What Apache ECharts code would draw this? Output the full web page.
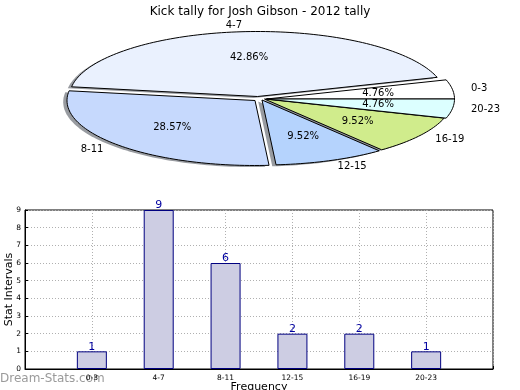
<!DOCTYPE html>
<html>
<head>
<meta charset="utf-8">
<script src="https://cdn.jsdelivr.net/npm/echarts@6/dist/echarts.min.js"></script>
<style>
html,body{margin:0;padding:0;background:#fff;}
#chart{width:520px;height:390px;}
</style>
</head>
<body>
<div id="chart"></div>
<script>
// ---- data ----
const categories = ['0-3', '4-7', '8-11', '12-15', '16-19', '20-23'];
const counts = [1, 9, 6, 2, 2, 1];
const yTicks = [0, 1, 2, 3, 4, 5, 6, 7, 8, 9];
const titleText = 'Kick tally for Josh Gibson - 2012 tally';

// ---- styles / geometry (not data) ----
const sliceColors = ['#ffffff', '#eaf1fe', '#c6d9fd', '#b5d3fd', '#d0ec8c', '#dcffff'];
const PIE = { cx: 265.5, cy: 99, rx: 188, ry: 65 };
const sliceOffsets = [[1, 0], [-8, -2.5], [-10.5, 1.5], [-3.5, 1], [-1, 0], [1, 0]];
const shadowOffset = [-3.8, 1.5];
const FONT = 'DejaVu Sans';

const total = counts.reduce((a, b) => a + b, 0);
const starts = [];
(function () { let acc = 0; counts.forEach(v => { starts.push(acc); acc += v; }); })();

function sliceGeom(i) {
  const a0 = starts[i] / total * Math.PI * 2;
  const a1 = (starts[i] + counts[i]) / total * Math.PI * 2;
  const c = [PIE.cx + sliceOffsets[i][0], PIE.cy + sliceOffsets[i][1]];
  return { a0, a1, c, m: (a0 + a1) / 2 };
}
function wedgePoints(c, a0, a1) {
  const pts = [[c[0], c[1]]];
  const n = Math.max(2, Math.ceil((a1 - a0) / (Math.PI / 120)));
  for (let k = 0; k <= n; k++) {
    const t = a0 + (a1 - a0) * k / n;
    pts.push([c[0] + PIE.rx * Math.cos(t), c[1] - PIE.ry * Math.sin(t)]);
  }
  return pts;
}

const pieData = counts.map((v, i) => [i, v]);

const chart = echarts.init(document.getElementById('chart'), null, { renderer: 'canvas' });
chart.setOption({
  animation: false,
  backgroundColor: '#fff',
  title: {
    text: titleText, left: 'center', top: 1,
    textStyle: { fontSize: 12, fontWeight: 'normal', color: '#000', fontFamily: FONT }
  },
  graphic: [{
    type: 'text', left: 0, top: 373,
    style: { text: 'Dream-Stats.com', fill: 'rgba(120,120,120,0.75)', fontSize: 12, fontFamily: FONT }
  }],
  grid: { left: 25, right: 27, top: 210, bottom: 21, containLabel: false, outerBoundsMode: 'none',
    show: true, borderColor: '#000', borderWidth: 1 },
  xAxis: {
    type: 'category',
    data: [''].concat(categories, ['']),
    boundaryGap: false,
    name: 'Frequency', nameLocation: 'middle', nameGap: 13, nameMoveOverlap: false,
    nameTextStyle: { fontSize: 11, color: '#000', fontFamily: FONT },
    axisLine: { lineStyle: { color: '#000' } },
    axisTick: { show: true, inside: true, length: 3, lineStyle: { color: '#000' } },
    axisLabel: { fontSize: 7.5, color: '#000', fontFamily: FONT, margin: 5, interval: 0 },
    splitLine: { show: true, lineStyle: { color: '#b0b0b0', type: [1, 2] } }
  },
  yAxis: {
    type: 'value', min: 0, max: 9, interval: 1,
    name: 'Stat Intervals', nameLocation: 'middle', nameGap: 10, nameRotate: 90, nameMoveOverlap: false,
    nameTextStyle: { fontSize: 11, color: '#000', fontFamily: FONT },
    axisLine: { show: true, lineStyle: { color: '#000' } },
    axisTick: { show: true, inside: true, length: 3, lineStyle: { color: '#000' } },
    axisLabel: { fontSize: 7.5, color: '#000', fontFamily: FONT, margin: 4,
      formatter: v => (yTicks.indexOf(v) >= 0 ? String(v) : '') },
    splitLine: { show: true, lineStyle: { color: '#b0b0b0', type: [1, 2] } }
  },
  series: [
    {
      type: 'bar',
      data: ['-'].concat(counts, ['-']),
      barWidth: 30,
      itemStyle: { color: '#cdcde3', borderColor: '#000080', borderWidth: 1 },
      label: { show: true, position: 'top', distance: -1, color: '#0000a0', fontSize: 11, fontFamily: FONT },
      z: 3
    },
    {
      type: 'custom', coordinateSystem: 'none', z: 1, silent: true,
      data: pieData,
      renderItem: function (params, api) {
        const i = api.value(0);
        const g = sliceGeom(i);
        const c = [g.c[0] + shadowOffset[0], g.c[1] + shadowOffset[1]];
        return {
          type: 'polygon',
          shape: { points: wedgePoints(c, g.a0, g.a1) },
          style: { fill: 'rgba(50,55,65,0.5)', stroke: null }
        };
      }
    },
    {
      type: 'custom', coordinateSystem: 'none', z: 2, silent: true,
      data: pieData,
      renderItem: function (params, api) {
        const i = api.value(0);
        const v = api.value(1);
        const g = sliceGeom(i);
        const dx = PIE.rx * Math.cos(g.m), dy = -PIE.ry * Math.sin(g.m);
        const pct = (v / total * 100).toFixed(2) + '%';
        return {
          type: 'group',
          children: [
            {
              type: 'polygon',
              shape: { points: wedgePoints(g.c, g.a0, g.a1) },
              style: { fill: sliceColors[i], stroke: '#000', lineWidth: 1, lineJoin: 'miter' }
            },
            {
              type: 'text', z2: 10,
              style: { text: pct, x: g.c[0] + 0.6 * dx, y: g.c[1] + 0.6 * dy,
                align: 'center', verticalAlign: 'middle', fill: '#000', fontSize: 10, fontFamily: FONT }
            },
            {
              type: 'text', z2: 10,
              style: { text: categories[i], x: g.c[0] + 1.1 * dx, y: g.c[1] + 1.1 * dy,
                align: Math.cos(g.m) > 0 ? 'left' : 'right', verticalAlign: 'middle',
                fill: '#000', fontSize: 10, fontFamily: FONT }
            }
          ]
        };
      }
    }
  ]
});
</script>
</body>
</html>
